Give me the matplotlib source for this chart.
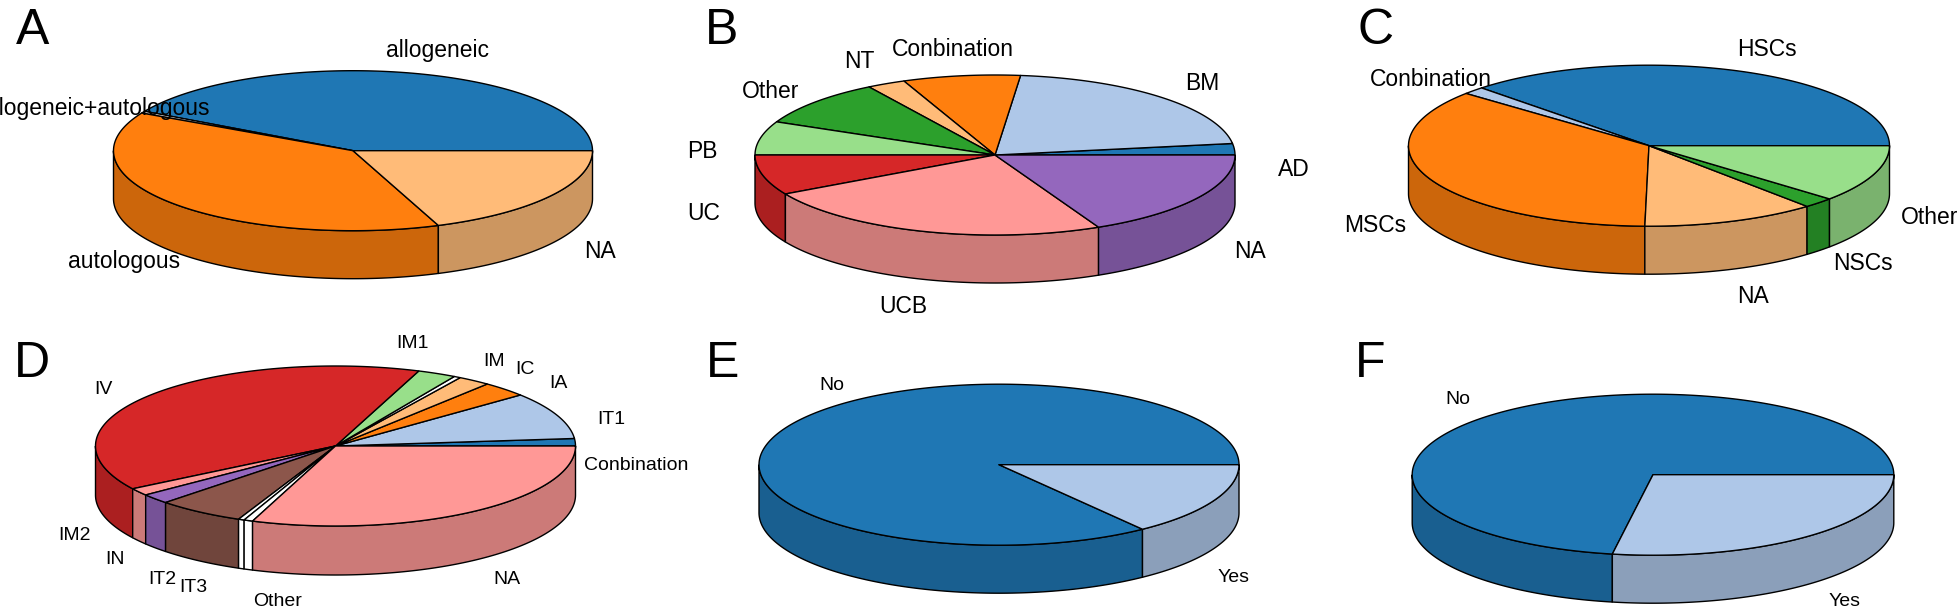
import numpy as np
import matplotlib
matplotlib.use("Agg")
import matplotlib.pyplot as plt
from matplotlib.colors import to_rgb
from matplotlib.patches import Polygon

plt.rcParams['font.family'] = ['Liberation Sans', 'DejaVu Sans']

W, H = 1960, 609

BLUE, LBLUE, ORANGE, LORANGE = '#1f77b4', '#aec7e8', '#ff7f0e', '#ffbb78'
GREEN, LGREEN, RED, PINK = '#2ca02c', '#98df8a', '#d62728', '#ff9896'
PURPLE, BROWN, WHITE = '#9467bd', '#8c564b', '#ffffff'

# Data: percentage of each slice, counter-clockwise from the right edge
a_labels = ['allogeneic', 'allogeneic+autologous', 'autologous', 'NA']
a_values = [41.8, 0.4, 38.6, 19.2]
a_colors = [BLUE, WHITE, ORANGE, LORANGE]

b_labels = ['AD', 'BM', 'Conbination', 'NT', 'Other', 'PB', 'UC', 'UCB', 'NA']
b_values = [2.3, 21.0, 7.9, 2.6, 9.4, 6.8, 8.1, 24.0, 17.9]
b_colors = [BLUE, LBLUE, ORANGE, LORANGE, GREEN, LGREEN, RED, PINK, PURPLE]

c_labels = ['HSCs', 'Conbination', 'MSCs', 'NA', 'NSCs', 'Other']
c_values = [37.3, 1.5, 36.0, 11.7, 2.1, 11.5]
c_colors = [BLUE, LBLUE, ORANGE, LORANGE, GREEN, LGREEN]

d_labels = ['Conbination', 'IT1', 'IA', 'IC', 'IM', 'IM1', 'IV',
            'IM2', 'IN', 'IT2', 'IT3', 'Other', 'NA']
d_values = [1.5, 9.5, 3.1, 2.2, 0.45, 2.6, 39.6, 1.5, 2.0, 5.9, 0.4, 0.6, 30.6]
d_colors = [BLUE, LBLUE, ORANGE, LORANGE, WHITE, LGREEN, RED, PINK, PURPLE,
            BROWN, WHITE, WHITE, PINK]

e_labels = ['No', 'Yes']
e_values = [85.2, 14.8]
e_colors = [BLUE, LBLUE]

f_labels = ['No', 'Yes']
f_values = [72.3, 27.7]
f_colors = [BLUE, LBLUE]

# Layout, in pixels of the output figure
panels = [
    dict(letter='A', letter_xy=(16, 44), c=(353, 150.7), r=(239.5, 80), h=48, fs=16.5,
         labels=a_labels, values=a_values, colors=a_colors,
         text_xy=[(437, 50), (210, 108), (124, 262), (600.5, 252)],
         ha=['center', 'right', 'center', 'center']),
    dict(letter='B', letter_xy=(705, 44), c=(995, 155), r=(240, 80), h=48, fs=16.5,
         labels=b_labels, values=b_values, colors=b_colors,
         text_xy=[(1294, 169), (1202, 83), (952.5, 49), (859, 62), (771, 92),
                  (702, 151), (704, 213), (903, 306), (1250, 251)]),
    dict(letter='C', letter_xy=(1357, 44), c=(1649, 145.7), r=(240.5, 80.5), h=48, fs=16.5,
         labels=c_labels, values=c_values, colors=c_colors,
         text_xy=[(1767, 49), (1431, 79), (1375, 225), (1753, 296), (1863, 264), (1930, 218)]),
    dict(letter='D', letter_xy=(14, 377), c=(335.5, 446), r=(240, 80), h=49, fs=14,
         labels=d_labels, values=d_values, colors=d_colors,
         text_xy=[(636, 465), (611, 419), (558, 383), (525, 369), (494.5, 361), (412, 344),
                  (103, 389), (74, 536), (115, 560), (162, 579), (193, 587), (278, 601), (507, 580)]),
    dict(letter='E', letter_xy=(706, 377), c=(999, 464.7), r=(240, 80.5), h=48, fs=14,
         labels=e_labels, values=e_values, colors=e_colors,
         text_xy=[(831.5, 386), (1234, 577)]),
    dict(letter='F', letter_xy=(1355, 377), c=(1653, 474.7), r=(240.8, 80.5), h=48, fs=14,
         labels=f_labels, values=f_values, colors=f_colors,
         text_xy=[(1458, 400), (1845, 601)]),
]

SHADE = 0.8
LW = 1.0


def side_colour(col):
    rgb = np.array(to_rgb(col))
    return tuple(rgb) if rgb.min() == 1 else tuple(rgb * SHADE)


def rim(t0, t1):
    n = max(int(abs(t1 - t0) * 2) + 2, 3)
    t = np.radians(np.linspace(t0, t1, n))
    return np.cos(t), np.sin(t)


def draw_pie(ax, values, colors, depth):
    edges = np.concatenate([[0], np.cumsum(values)]) / np.sum(values) * 360.0
    # Front wall first, then the top face
    for t0, t1, col in zip(edges[:-1], edges[1:], colors):
        lo, hi = max(t0, 180.0), min(t1, 360.0)
        if hi > lo:
            x, y = rim(lo, hi)
            pts = np.r_[np.c_[x, y], np.c_[x[::-1], y[::-1] - depth]]
            ax.add_patch(Polygon(pts, closed=True, facecolor=side_colour(col),
                                 edgecolor='black', lw=LW, clip_on=False, zorder=2))
    for t0, t1, col in zip(edges[:-1], edges[1:], colors):
        x, y = rim(t0, t1)
        pts = np.r_[[[0, 0]], np.c_[x, y]]
        ax.add_patch(Polygon(pts, closed=True, facecolor=col, edgecolor='black',
                             lw=LW, clip_on=False, zorder=3, joinstyle='round'))


fig = plt.figure(figsize=(W / 100, H / 100), dpi=100, facecolor='white')

for p in panels:
    (cx, cy), (rx, ry), h = p['c'], p['r'], p['h']
    ax = fig.add_axes([(cx - rx) / W, 1 - (cy + ry + h) / H, 2 * rx / W, (2 * ry + h) / H])
    ax.set_xlim(-1, 1)
    ax.set_ylim(-1 - h / ry, 1)
    ax.set_axis_off()
    draw_pie(ax, p['values'], p['colors'], h / ry)
    has = p.get('ha', ['center'] * len(p['labels']))
    for lab, (x, y), ha in zip(p['labels'], p['text_xy'], has):
        fig.text(x / W, 1 - y / H, lab, fontsize=p['fs'], ha=ha, va='center', color='black', zorder=10)
    lx, ly = p['letter_xy']
    fig.text(lx / W, 1 - ly / H, p['letter'], fontsize=36, ha='left', va='baseline', color='black')

fig.savefig('out.png', dpi=100, facecolor='white')
